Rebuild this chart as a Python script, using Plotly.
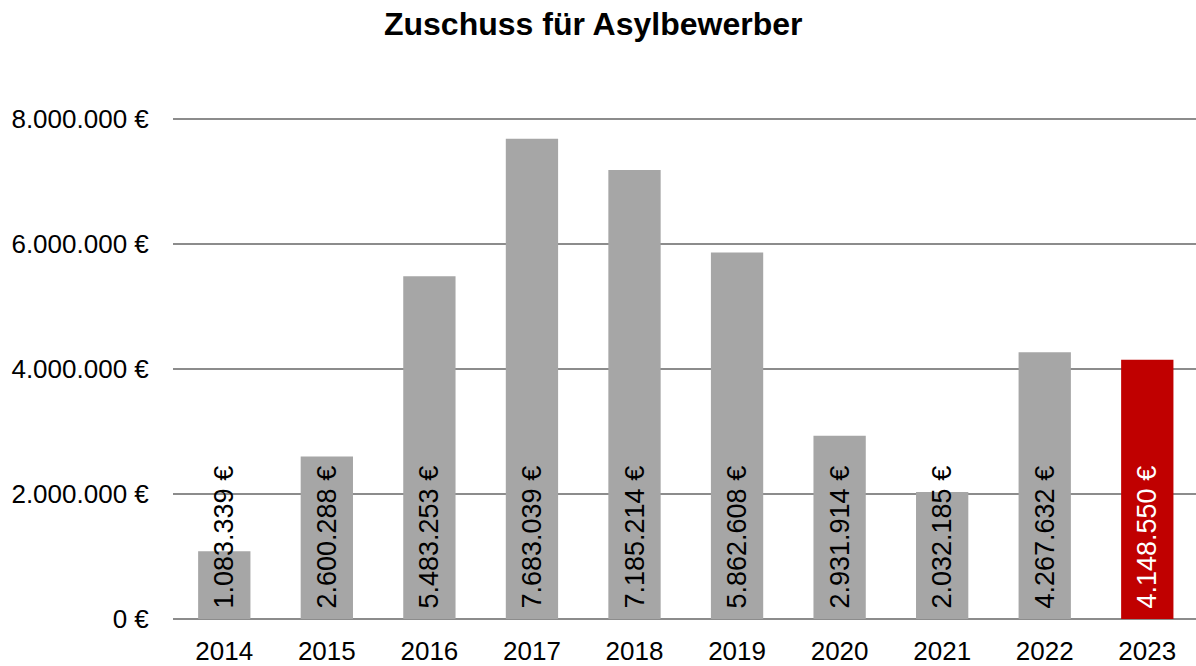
import plotly.graph_objects as go

# Zuschuss fuer Asylbewerber, Jahreswerte in Euro
years = ['2014', '2015', '2016', '2017', '2018', '2019', '2020', '2021', '2022', '2023']
amounts = [1083339, 2600288, 5483253, 7683039, 7185214, 5862608, 2931914, 2032185, 4267632, 4148550]
y_ticks = [0, 2000000, 4000000, 6000000, 8000000]
y_ticktext = ['0 €', '2.000.000 €', '4.000.000 €', '6.000.000 €', '8.000.000 €']

grey = '#a6a6a6'
red = '#c00000'
bar_colors = [grey] * (len(years) - 1) + [red]
label_colors = ['black'] * (len(years) - 1) + ['white']


def euro(v):
    # leading nbsp keeps the label a little above the bar foot
    return "\u00a0" + f"{v:,}".replace(",", ".") + " €"


fnt = 'Liberation Sans, Arial, DejaVu Sans, sans-serif'

fig = go.Figure()
fig.add_trace(go.Bar(x=years, y=amounts, marker=dict(color=bar_colors, line=dict(width=0)),
                     text=[euro(v) for v in amounts], textposition='inside', insidetextanchor='start',
                     textangle=-90, constraintext='none', cliponaxis=False,
                     textfont=dict(size=27, color=label_colors, family=fnt),
                     hoverinfo='skip'))

fig.update_layout(
    width=1196, height=666,
    title=dict(text='<b>Zuschuss für Asylbewerber</b>', x=0.496, xanchor='center', y=0.964, yanchor='middle',
               font=dict(size=32, color='black', family=fnt)),
    font=dict(family=fnt, size=26, color='black'),
    uniformtext=dict(minsize=27, mode='show'),
    plot_bgcolor='white', paper_bgcolor='white',
    bargap=0.49,
    showlegend=False,
    margin=dict(l=173, r=0, t=116, b=43),
    xaxis=dict(type='category', range=[-0.5, 9.475], showgrid=False, zeroline=False, showline=False,
               ticks='outside', ticklen=9, tickcolor='rgba(0,0,0,0)'),
    yaxis=dict(range=[0, 8048000], tickvals=y_ticks, ticktext=y_ticktext,
               showgrid=True, gridcolor='#8c8c8c', gridwidth=2,
               zeroline=True, zerolinecolor='#8c8c8c', zerolinewidth=2, showline=False,
               ticks='outside', ticklen=18, tickcolor='rgba(0,0,0,0)'),
)

fig.write_html("out.html", config={'displayModeBar': False},
               post_script="document.body.style.margin='0';")
